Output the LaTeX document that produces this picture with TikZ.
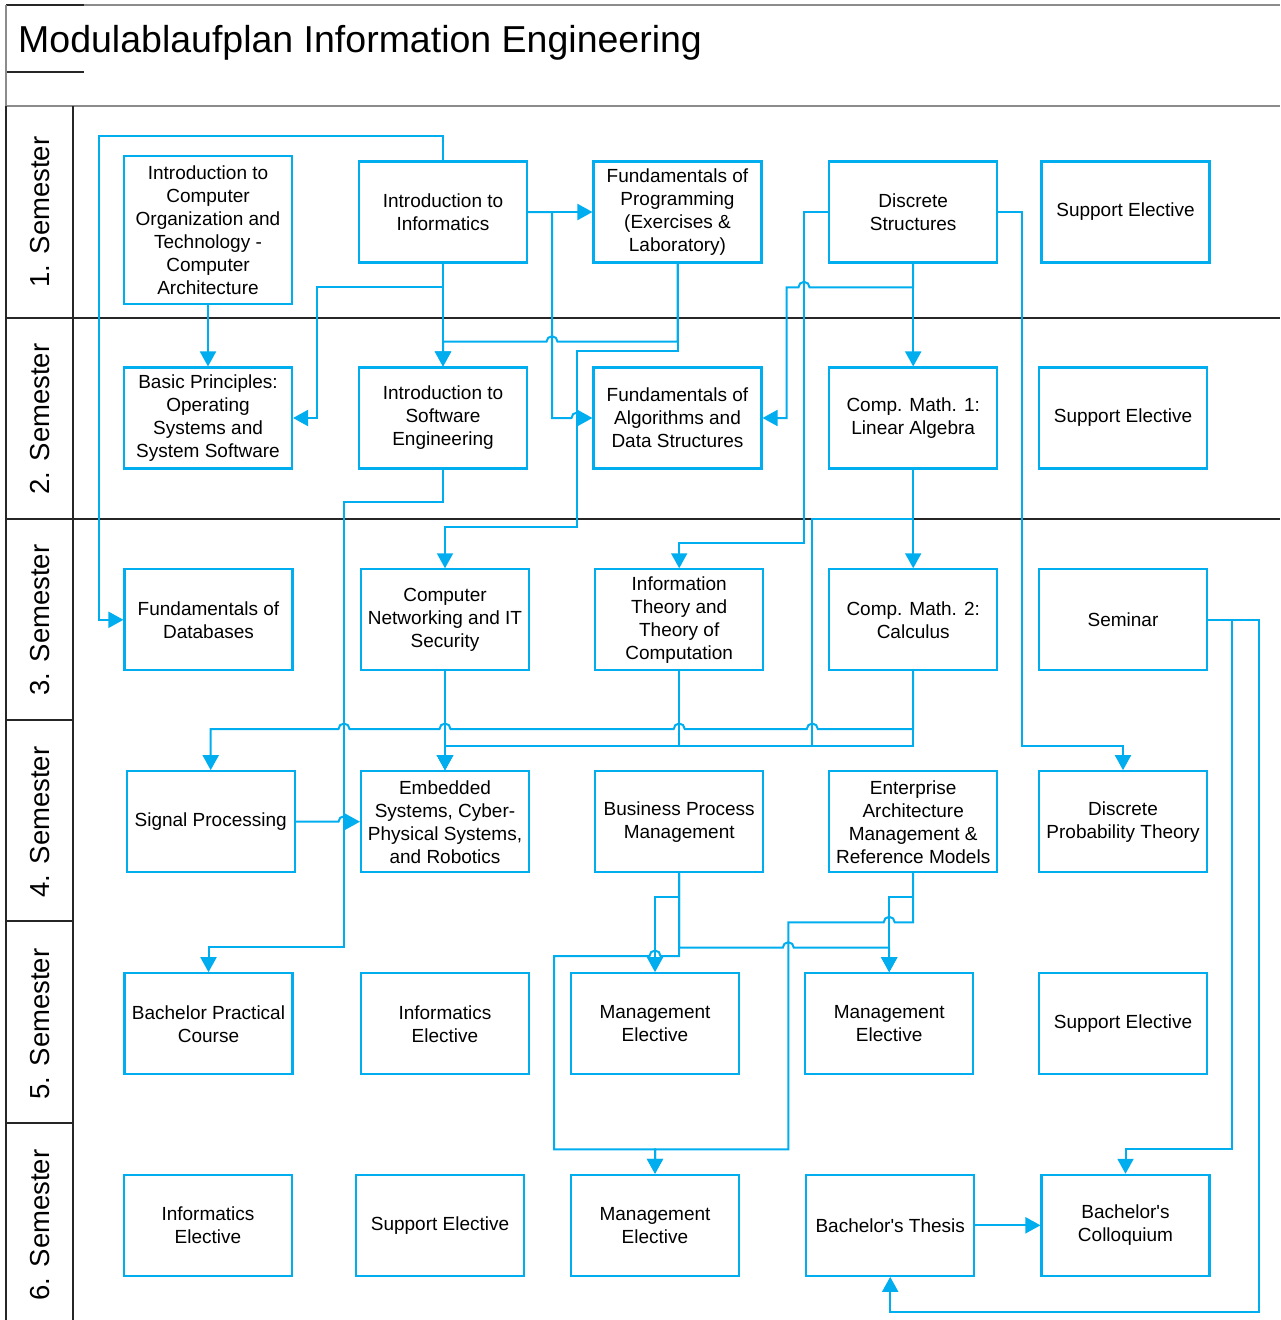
\documentclass[tikz,border=0pt]{standalone}
\usepackage{fontspec}
\setmainfont{Liberation Sans}
\usetikzlibrary{arrows.meta}
\definecolor{cy}{RGB}{0,174,239}
\newcommand\hpR[2]{-- (#1-5.5,#2) arc[start angle=180,end angle=0,radius=5.5pt]}
\newcommand\hpL[2]{-- (#1+5.5,#2) arc[start angle=0,end angle=180,radius=5.5pt]}
\begin{document}
\begin{tikzpicture}[x=1pt,y=-1pt,
  mod/.style={draw=cy, line width=2.1pt, minimum width=168pt, minimum height=101pt, inner sep=0pt, align=center, font=\fontsize{19}{23}\selectfont},
  arr/.style={draw=cy, line width=2pt, -{Triangle[length=15pt,width=16pt]}},
  ln/.style={draw=cy, line width=2pt},
  lane/.style={draw=black!85, line width=1.2pt},
  grayl/.style={draw=black!45, line width=1.1pt},
  sem/.style={rotate=90, font=\fontsize{27.5}{30}\selectfont, inner sep=0pt}]
\useasboundingbox (0,0) rectangle (1280,1320);
\fill[white] (0,0) rectangle (1280,1320);
% frame
\draw[grayl] (6,5) -- (1280,5);
\draw[lane] (6,5) -- (84,5);
\draw[lane] (6,72) -- (84,72);
\draw[grayl] (6,106) -- (1280,106);
\draw[grayl] (6,5) -- (6,106);
\draw[lane] (6,106) -- (6,1320);
\draw[lane] (73,106) -- (73,1320);
\draw[lane] (6,318) -- (1280,318);
\draw[lane] (6,519) -- (1280,519);
\draw[lane] (6,720) -- (73,720);
\draw[lane] (6,921) -- (73,921);
\draw[lane] (6,1123) -- (73,1123);
\node[anchor=base west, inner sep=0pt, font=\fontsize{37.5}{40}\selectfont] (title) at (18,52) {Modulablaufplan Information Engineering};
\node[sem] (s1) at (40,212) {1. Semester};
\node[sem] (s2) at (40,419) {2. Semester};
\node[sem] (s3) at (40,620) {3. Semester};
\node[sem] (s4) at (40,822) {4. Semester};
\node[sem] (s5) at (40,1024) {5. Semester};
\node[sem] (s6) at (40,1225) {6. Semester};
% row 1
\node[mod, minimum height=148pt] (A1) at (208,229.8) {Introduction to\\Computer\\Organization and\\Technology -\\Computer\\Architecture};
\node[mod] (B1) at (443,212) {Introduction to\\Informatics};
\node[mod] (C1) at (677.5,212) {Fundamentals of\\Programming\\(Exercises \&\\Laboratory)};
\node[mod] (D1) at (913.2,212) {Discrete\\Structures};
\node[mod] (E1) at (1125.5,212) {Support Elective};
% row 2
\node[mod] (A2) at (208,418) {Basic Principles:\\Operating\\Systems and\\System Software};
\node[mod] (B2) at (443,418) {Introduction to\\Software\\Engineering};
\node[mod] (C2) at (677.5,418) {Fundamentals of\\Algorithms and\\Data Structures};
\node[mod] (D2) at (913.2,418) {Comp. Math. 1:\\Linear Algebra};
\node[mod] (E2) at (1123,418) {Support Elective};
% row 3
\node[mod] (A3) at (208.5,619.8) {Fundamentals of\\Databases};
\node[mod] (B3) at (445,619.8) {Computer\\Networking and IT\\Security};
\node[mod] (C3) at (679.2,619.8) {Information\\Theory and\\Theory of\\Computation};
\node[mod] (D3) at (913.2,619.8) {Comp. Math. 2:\\Calculus};
\node[mod] (E3) at (1123,619.8) {Seminar};
% row 4
\node[mod] (A4) at (210.7,821.7) {Signal Processing};
\node[mod] (B4) at (445,821.7) {Embedded\\Systems, Cyber-\\Physical Systems,\\and Robotics};
\node[mod] (C4) at (679.2,821.7) {Business Process\\Management};
\node[mod] (D4) at (913.2,821.7) {Enterprise\\Architecture\\Management \&\\Reference Models};
\node[mod] (E4) at (1123,821.7) {Discrete\\Probability Theory};
% row 5
\node[mod] (A5) at (208.5,1023.7) {Bachelor Practical\\Course};
\node[mod] (B5) at (445,1023.7) {Informatics\\Elective};
\node[mod] (C5) at (655,1023.7) {Management\\Elective};
\node[mod] (D5) at (889.2,1023.7) {Management\\Elective};
\node[mod] (E5) at (1123,1023.7) {Support Elective};
% row 6
\node[mod] (A6) at (208,1225.3) {Informatics\\Elective};
\node[mod] (B6) at (440,1225.3) {Support Elective};
\node[mod] (C6) at (655,1225.3) {Management\\Elective};
\node[mod] (D6) at (890.2,1225.3) {Bachelor\textquotesingle s Thesis};
\node[mod] (E6) at (1125.5,1225.3) {Bachelor\textquotesingle s\\Colloquium};
% connectors
\draw[arr] (A1.south) -- (A2.north);
\draw[arr] (B1.north) |- (99,136) |- (A3.west);
\draw[arr] (B1.south) -- (B2.north);
\draw[arr] (B1.south) |- (317,287.3) |- (A2.east);
\draw[arr] (B1.east) -- (C1.west);
\draw[arr] (B1.east) -| (552,418) \hpR{577}{418} -- (C2.west);
\draw[arr] (C1.south) -- (677.5,341.7) \hpL{552}{341.7} -- (443,341.7) -- (B2.north);
\draw[arr] (C1.south) |- (577,350.7) -- (577,527.3) -| (B3.north);
\draw[arr] (D1.west) -| (804,543.3) -| (C3.north);
\draw[arr] (D1.south) -- (913.2,287.3) \hpL{804}{287.3} -- (786.7,287.3) |- (C2.east);
\draw[arr] (D1.south) -- (D2.north);
\draw[arr] (D1.east) -| (1022.3,745.7) -| (E4.north);
\draw[arr] (D2.south) -- (D3.north);
\draw[arr] (D2.south) |- (812.3,519) -- (812.3,745.7) -| (B4.north);
\draw[arr] (D3.south) -- (913.2,729) \hpL{812.3}{729} \hpL{679.2}{729} \hpL{445}{729} \hpL{344}{729} -| (A4.north);
\draw[arr] (D3.south) -- (913.2,745.7) -| (B4.north);
\draw[arr] (C3.south) -- (679.2,745.7) -| (B4.north);
\draw[arr] (B3.south) -- (B4.north);
\draw[arr] (B2.south) |- (344,501.7) -- (344,947) -| (A5.north);
\draw[arr] (A4.east) \hpR{344}{821.7} -- (B4.west);
\draw[arr] (C4.south) |- (655,897) -- (C5.north);
\draw[arr] (C4.south) -- (679.2,956) \hpL{655}{956} -- (554,956) -- (554,1149.3) -| (C6.north);
\draw[arr] (C4.south) -- (679.2,947.7) \hpR{788.3}{947.7} -| (D5.north);
\draw[arr] (D4.south) |- (889.2,897) -- (D5.north);
\draw[arr] (D4.south) -- (913.2,922.3) \hpL{889.2}{922.3} -- (788.3,922.3) -- (788.3,1149.3) -| (C6.north);
\draw[arr] (D6.east) -- (E6.west);
\draw[arr] (E3.east) -| (1232,1149.3) -| (E6.north);
\draw[arr] (E3.east) -| (1259.3,1311.7) -| (D6.south);
\end{tikzpicture}
\end{document}
